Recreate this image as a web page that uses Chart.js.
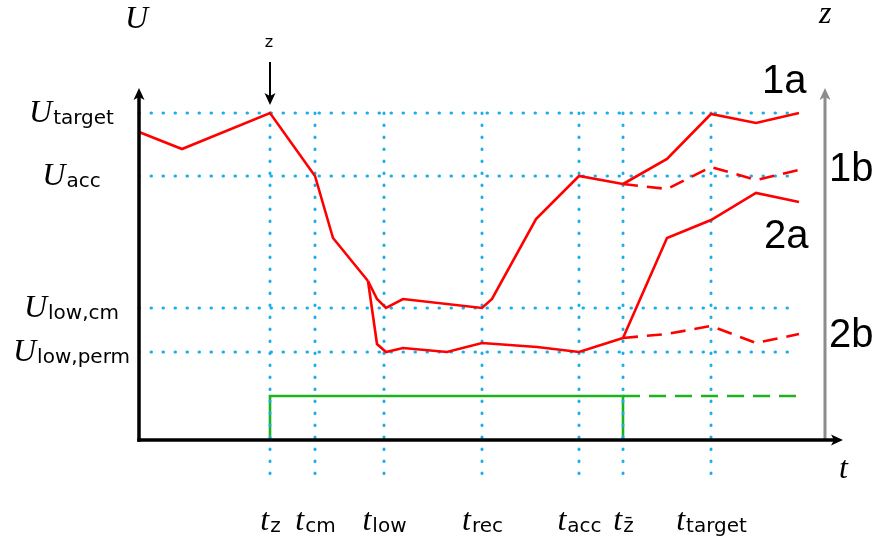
<!DOCTYPE html>
<html>
<head>
<meta charset="utf-8">
<script src="https://cdn.jsdelivr.net/npm/chart.js@4.4.1/dist/chart.umd.min.js"></script>
<style>
  html, body { margin: 0; padding: 0; background: #ffffff; }
  #wrap { width: 879px; height: 542px; position: relative; }
</style>
</head>
<body>
<div id="wrap"><canvas id="c"></canvas></div>
<script>
// Time instants marked on the t axis
const timeNames = ['z', 'cm', 'low', 'rec', 'acc', 'z\u0304', 'target'];
const timeValues = [13.1, 17.6, 24.5, 34.3, 44.0, 48.4, 57.2];
// Voltage levels marked on the U axis
const levelNames = ['target', 'acc', 'low,cm', 'low,perm'];
const levelValues = [32.7, 26.4, 13.2, 8.8];

// Common voltage trajectory before the split
const trunkT = [0, 4.3, 13.1, 17.6, 19.4, 22.9];
const trunkU = [30.8, 29.1, 32.7, 26.4, 20.2, 15.9];
// Path through U_low,cm up to t_z̄
const cmT = [22.9, 23.8, 24.7, 26.4, 34.3, 35.3, 39.7, 44.0, 48.4];
const cmU = [15.9, 14.1, 13.2, 14.1, 13.2, 14.1, 22.1, 26.4, 25.6];
// Path through U_low,perm up to t_z̄
const permT = [22.9, 23.8, 24.7, 26.4, 30.8, 34.3, 39.8, 44.0, 48.4];
const permU = [15.9, 9.6, 8.8, 9.2, 8.8, 9.7, 9.3, 8.8, 10.2];
// Continuations after t_z̄
const branchT = [48.4, 52.8, 57.2, 61.7, 66.0];
const case1aU = [25.6, 28.1, 32.6, 31.7, 32.7];
const case1bU = [25.6, 25.1, 27.3, 26.0, 27.0];
const case2aU = [10.2, 20.2, 22.0, 24.7, 23.8];
const case2bU = [10.2, 10.6, 11.4, 9.7, 10.6];
// z signal
const zT = [13.1, 13.1, 48.4, 48.4];
const zU = [0, 4.4, 4.4, 0];
const zHoldT = [48.4, 66.1];
const zHoldU = [4.4, 4.4];
// Case labels
const caseNames = ['1a', '1b', '2a', '2b'];

// Extent of the guide lines
const guideEndT = 65.8;
const guideLowU = -4.1;

const pts = (xs, ys) => xs.map((x, i) => ({ x, y: ys[i] }));

const RED = '#ff0000';
const GREEN = '#1eb31e';
const DOT = '#1aaeea';

function curve(xs, ys, color, dash, order) {
  return {
    data: pts(xs, ys), borderColor: color, borderWidth: 2.6,
    borderDash: dash, pointRadius: 0, tension: 0,
    fill: false, clip: false, order: order
  };
}
function guide(xs, ys) {
  return {
    data: pts(xs, ys), borderColor: DOT, borderWidth: 3,
    borderDash: [0.5, 11.5], borderCapStyle: 'round',
    pointRadius: 0, tension: 0, fill: false, clip: false, order: 5
  };
}

const datasets = [];
levelValues.forEach(v => datasets.push(guide([0, guideEndT], [v, v])));
timeValues.forEach(t => datasets.push(guide([t, t], [levelValues[0], guideLowU])));
datasets.push(curve(zT, zU, GREEN, [], 8));
datasets.push(curve(zHoldT, zHoldU, GREEN, [17, 9], 8));
datasets.push(curve(trunkT, trunkU, RED, [], 1));
datasets.push(curve(cmT, cmU, RED, [], 1));
datasets.push(curve(permT, permU, RED, [], 1));
datasets.push(curve(branchT, case1aU, RED, [], 1));
datasets.push(curve(branchT, case1bU, RED, [15, 9], 1));
datasets.push(curve(branchT, case2aU, RED, [], 1));
datasets.push(curve(branchT, case2bU, RED, [15, 9], 1));

function arrowHead(ctx, x, y, dir, color) {
  const L = 12, W = 5.5, N = 3;
  ctx.save();
  ctx.translate(x, y);
  if (dir === 'right') ctx.rotate(Math.PI / 2);
  if (dir === 'down') ctx.rotate(Math.PI);
  ctx.beginPath();
  ctx.moveTo(0, 0);
  ctx.lineTo(-W, L);
  ctx.lineTo(0, L - N);
  ctx.lineTo(W, L);
  ctx.closePath();
  ctx.fillStyle = color;
  ctx.fill();
  ctx.restore();
}

function subLabel(ctx, main, sub, cx, baseline) {
  const mainFont = 'italic 32px "Liberation Serif"';
  const subFont = '20px "DejaVu Sans"';
  ctx.font = mainFont;
  const wm = ctx.measureText(main).width;
  ctx.font = subFont;
  const ws = ctx.measureText(sub).width;
  const x0 = cx - (wm + ws) / 2;
  ctx.textAlign = 'left';
  ctx.textBaseline = 'alphabetic';
  ctx.font = mainFont;
  ctx.fillText(main, x0, baseline);
  ctx.font = subFont;
  ctx.fillText(sub, x0 + wm + 1, baseline + 2);
}

const decorations = {
  id: 'decorations',
  afterDatasetsDraw(chart) {
    const ctx = chart.ctx;
    const xs = chart.scales.x, ys = chart.scales.y;
    const x0 = xs.getPixelForValue(0), y0 = ys.getPixelForValue(0);
    const yTop = ys.getPixelForValue(35.2);
    const xEnd = xs.getPixelForValue(70.4);
    const xz = xs.getPixelForValue(68.6);
    ctx.save();
    ctx.lineCap = 'butt';
    // z axis (grey)
    ctx.strokeStyle = '#8c8c8c';
    ctx.lineWidth = 3;
    ctx.beginPath(); ctx.moveTo(xz, y0); ctx.lineTo(xz, yTop + 6); ctx.stroke();
    arrowHead(ctx, xz, yTop, 'up', '#8c8c8c');
    // U and t axes
    ctx.strokeStyle = '#000';
    ctx.lineWidth = 3.5;
    ctx.beginPath(); ctx.moveTo(x0, y0 + 1.7); ctx.lineTo(x0, yTop + 6); ctx.stroke();
    arrowHead(ctx, x0, yTop, 'up', '#000');
    ctx.beginPath(); ctx.moveTo(x0 - 1.7, y0); ctx.lineTo(xEnd - 6, y0); ctx.stroke();
    arrowHead(ctx, xEnd, y0, 'right', '#000');

    // event arrow at t_z
    const xt = xs.getPixelForValue(timeValues[0]);
    const yt = ys.getPixelForValue(levelValues[0]);
    ctx.lineWidth = 2;
    ctx.beginPath(); ctx.moveTo(xt, yt - 51); ctx.lineTo(xt, yt - 14); ctx.stroke();
    arrowHead(ctx, xt, yt - 8, 'down', '#000');
    ctx.fillStyle = '#000';
    ctx.font = '16px "DejaVu Sans"';
    ctx.textAlign = 'center';
    ctx.textBaseline = 'alphabetic';
    ctx.fillText('z', xt - 1, yt - 66);

    // axis titles
    ctx.font = 'italic 32px "Liberation Serif"';
    ctx.textAlign = 'left';
    ctx.fillText('U', 125, 28);
    ctx.fillText('z', 819, 23);
    ctx.fillText('t', 839, 478);

    // level labels
    levelValues.forEach((v, i) => {
      subLabel(ctx, 'U', levelNames[i], 71, ys.getPixelForValue(v) + 9);
    });
    // time labels
    timeValues.forEach((t, i) => {
      subLabel(ctx, 't', timeNames[i], xs.getPixelForValue(t), 530);
    });

    // case labels
    ctx.font = '40px "Liberation Sans"';
    ctx.textAlign = 'left';
    const casePos = [[762, 93], [829, 181], [764, 248], [829, 347]];
    caseNames.forEach((n, i) => ctx.fillText(n, casePos[i][0], casePos[i][1]));
    ctx.restore();
  }
};

new Chart(document.getElementById('c'), {
  type: 'line',
  data: { datasets },
  options: {
    responsive: true,
    maintainAspectRatio: false,
    animation: false,
    events: [],
    layout: { padding: { left: 139, right: 29, top: 80, bottom: 42 } },
    plugins: { legend: { display: false }, tooltip: { enabled: false } },
    scales: {
      x: { type: 'linear', min: 0, max: 71.1, display: false },
      y: { type: 'linear', min: -6, max: 36, display: false }
    }
  },
  plugins: [decorations]
});
</script>
</body>
</html>
